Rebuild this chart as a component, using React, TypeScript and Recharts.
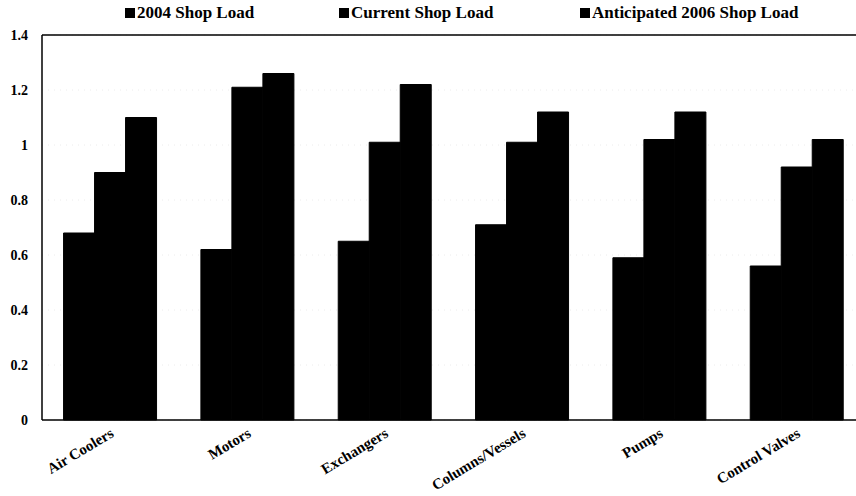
import {
    BarChart,
    Bar,
    XAxis,
    YAxis,
    CartesianGrid,
    Legend,
    ReferenceLine
} from "recharts"

// equipment categories along the x axis
const categories = [
    "Air Coolers",
    "Motors",
    "Exchangers",
    "Columns/Vessels",
    "Pumps",
    "Control Valves"
]

// shop load per category
const load2004 = [0.68, 0.62, 0.65, 0.71, 0.59, 0.56]
const loadCurrent = [0.90, 1.21, 1.01, 1.01, 1.02, 0.92]
const load2006 = [1.10, 1.26, 1.22, 1.12, 1.12, 1.02]

const seriesNames = ["2004 Shop Load", "Current Shop Load", "Anticipated 2006 Shop Load"]
const yTicks = [0, 0.2, 0.4, 0.6, 0.8, 1, 1.2, 1.4]

const data = categories.map((name, i) => ({
    name,
    y2004: load2004[i],
    current: loadCurrent[i],
    y2006: load2006[i]
}))

const FONT = "'Liberation Serif', 'Times New Roman', serif"

// where each legend entry starts (left edge of its square)
const legendLeft = [125, 339, 580]

function TopLegend() {
    return (
        <div style={{ position: "relative", height: 33, width: 870 }}>
            {seriesNames.map((name, i) => (
                <div
                    key={name}
                    style={{
                        position: "absolute",
                        left: legendLeft[i],
                        top: 0,
                        display: "flex",
                        alignItems: "center",
                        fontFamily: FONT,
                        fontWeight: "bold",
                        fontSize: 17,
                        lineHeight: "22px",
                        color: "#000",
                        whiteSpace: "nowrap"
                    }}
                >
                    <span
                        style={{
                            display: "inline-block",
                            width: 10,
                            height: 10,
                            background: "#000",
                            marginRight: 2
                        }}
                    />
                    {name}
                </div>
            ))}
        </div>
    )
}

function CategoryTick(props: any) {
    const { x, y, payload } = props
    const tx = x + 4
    const ty = y + 8
    return (
        <text
            x={tx}
            y={ty}
            transform={`rotate(-31, ${tx}, ${ty})`}
            textAnchor="end"
            fontFamily={FONT}
            fontWeight="bold"
            fontSize={15}
            fill="#000"
        >
            {payload.value}
        </text>
    )
}

export default function App() {
    return (
        <div
            style={{
                position: "fixed",
                left: 0,
                top: 0,
                width: 856,
                height: 496,
                overflow: "hidden",
                background: "#fff"
            }}
        >
            <BarChart
                width={870}
                height={496}
                data={data}
                margin={{ top: 2, right: 4, bottom: 0, left: 0 }}
                barCategoryGap="15.7%"
                barGap={0}
            >
                <CartesianGrid
                    vertical={false}
                    stroke="#ececec"
                    strokeDasharray="1 5"
                />
                <Legend
                    verticalAlign="top"
                    align="left"
                    content={() => <TopLegend />}
                />
                <XAxis
                    dataKey="name"
                    height={76}
                    tickLine={false}
                    axisLine={{ stroke: "#000", strokeWidth: 1.5 }}
                    tick={<CategoryTick />}
                    interval={0}
                />
                <YAxis
                    width={42}
                    domain={[0, 1.4]}
                    ticks={yTicks}
                    tickLine={false}
                    tickSize={6}
                    tickMargin={8}
                    axisLine={{ stroke: "#000", strokeWidth: 1.5 }}
                    tick={{ fontFamily: FONT, fontWeight: "bold", fontSize: 14, fill: "#000" }}
                />
                <ReferenceLine y={1.4} stroke="#000" strokeWidth={1.5} />
                <Bar dataKey="y2004" name={seriesNames[0]} fill="#000" stroke="#000" strokeWidth={1} isAnimationActive={false} />
                <Bar dataKey="current" name={seriesNames[1]} fill="#000" stroke="#000" strokeWidth={1} isAnimationActive={false} />
                <Bar dataKey="y2006" name={seriesNames[2]} fill="#000" stroke="#000" strokeWidth={1} isAnimationActive={false} />
            </BarChart>
        </div>
    )
}
